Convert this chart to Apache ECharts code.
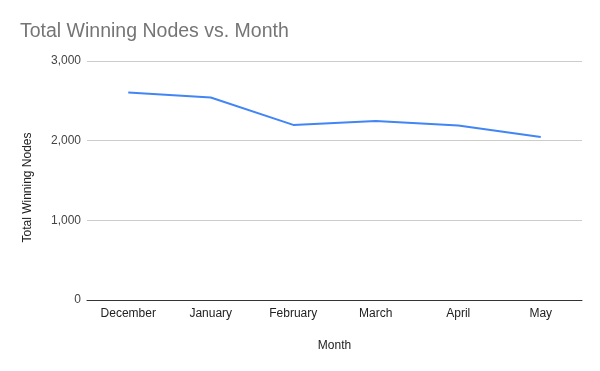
<!DOCTYPE html>
<html>
<head>
<meta charset="utf-8">
<script src="https://cdn.jsdelivr.net/npm/echarts@6/dist/echarts.min.js"></script>
<style>html,body{margin:0;padding:0;background:#fff}#c{width:600px;height:371px}</style>
</head>
<body>
<div id="c"></div>
<script>
var months = ["December", "January", "February", "March", "April", "May"];
var totalWinningNodes = [2604, 2541, 2198, 2248, 2189, 2047];
var yTicks = [0, 1000, 2000, 3000];

var chart = echarts.init(document.getElementById('c'), null, {renderer: 'canvas'});
var font = 'Arial, "Liberation Sans", sans-serif';
chart.setOption({
  animation: false,
  backgroundColor: '#ffffff',
  title: {
    text: 'Total Winning Nodes vs. Month',
    left: 15, top: 17,
    textStyle: {fontFamily: font, fontSize: 19.5, fontWeight: 'normal', color: '#757575'}
  },
  grid: {left: 87, right: 18, top: 61, bottom: 71},
  xAxis: {
    type: 'category',
    data: months,
    boundaryGap: true,
    name: 'Month',
    nameLocation: 'middle',
    nameGap: 40,
    nameTextStyle: {fontFamily: font, fontSize: 12, color: '#222222'},
    axisLine: {lineStyle: {color: '#333333', width: 1}},
    axisTick: {show: false},
    axisLabel: {fontFamily: font, fontSize: 12, color: '#222222', margin: 8}
  },
  yAxis: {
    type: 'value',
    min: yTicks[0],
    max: yTicks[yTicks.length - 1],
    interval: 1000,
    name: 'Total Winning Nodes',
    nameLocation: 'middle',
    nameGap: 53,
    nameTextStyle: {fontFamily: font, fontSize: 12, color: '#222222', padding: [0, 14, 0, 0]},
    axisLine: {show: false},
    axisTick: {show: false},
    splitLine: {lineStyle: {color: '#cccccc', width: 1}},
    axisLabel: {
      fontFamily: font, fontSize: 12, color: '#444444', margin: 6, padding: [3, 0, 0, 0],
      formatter: function (v) { return v.toLocaleString('en-US'); }
    }
  },
  series: [{
    type: 'line',
    data: totalWinningNodes,
    showSymbol: false,
    lineStyle: {color: '#4285f4', width: 2},
    itemStyle: {color: '#4285f4'}
  }]
});
</script>
</body>
</html>
